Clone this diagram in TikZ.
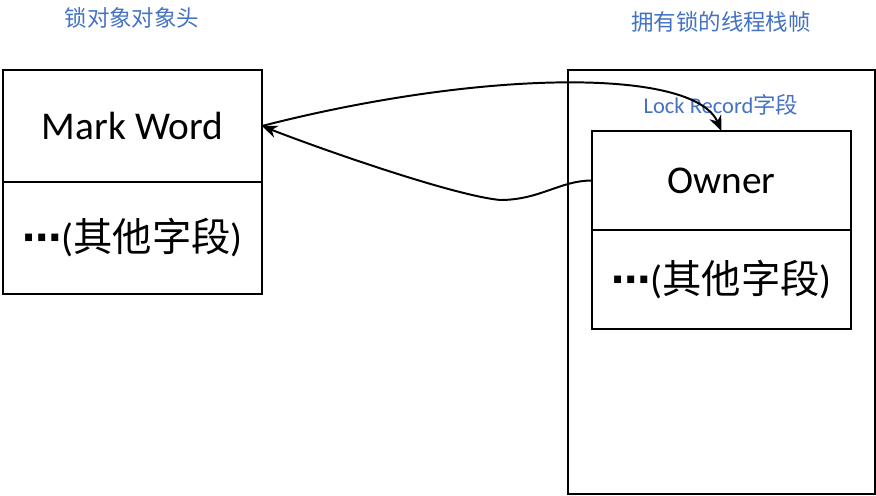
\documentclass[tikz,border=0pt]{standalone}
\usepackage{fontspec}
\setmainfont{Carlito}
\newfontfamily\cjk{Noto Sans CJK SC}
\newfontfamily\symf{DejaVu Sans}
\usetikzlibrary{positioning,arrows.meta}
\definecolor{capblue}{RGB}{68,114,196}

\begin{document}
\begin{tikzpicture}[font=\fontsize{28}{32}\selectfont, >={Stealth[length=11pt,width=9pt]},
  field/.style={draw, line width=0.8pt, outer sep=0pt, minimum width=6.475cm},
  caption/.style={text=capblue, font=\fontsize{16}{19}\selectfont},
  link/.style={->, line width=1.4pt}]
\useasboundingbox (0,0) rectangle (21.9,12.375);
% object header of the lock object
\node[field, minimum height=2.8cm] (mark) at (3.3125,9.225) {Mark Word};
\node[field, minimum height=2.8cm, below=0pt of mark] (hrest) {{\symf\bfseries ⋯}({\cjk 其他字段})};
\node[caption] (hcap) at (3.3,11.925) {\cjk 锁对象对象头};
% stack frame of the owning thread
\node[draw, line width=0.8pt, minimum width=7.675cm, minimum height=10.6cm] (frame) at (18.0375,5.325) {};
\node[caption] (fcap) at (18.025,11.825) {\cjk 拥有锁的线程栈帧};
\node[caption] (lcap) at (18.025,9.75) {Lock Record{\cjk 字段}};
\node[field, minimum height=2.475cm] (owner) at (18.0375,7.8625) {Owner};
\node[field, minimum height=2.475cm, below=0pt of owner] (rrest) {{\symf\bfseries ⋯}({\cjk 其他字段})};
% pointers between the two
\draw[link] (mark.east) .. controls +(5.45,1.4) and +(-0.7,1.6) .. (owner.north);
\coordinate (dip) at (12.5,7.375);
\draw[link] (owner.west) .. controls +(-0.8,0) and +(1,0) .. (dip)
  .. controls +(-1.25,0.125) and +(1.2,-0.475) .. (mark.east);
\end{tikzpicture}
\end{document}
